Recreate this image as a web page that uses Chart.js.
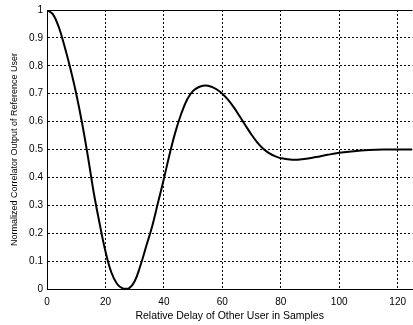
<!DOCTYPE html>
<html>
<head>
<meta charset="utf-8">
<script src="https://cdn.jsdelivr.net/npm/chart.js@4.4.1/dist/chart.umd.min.js"></script>
<style>
  html, body { margin: 0; padding: 0; background: #fff; overflow: hidden; }
  #wrap { width: 413px; height: 325px; }
</style>
</head>
<body>
<div id="wrap"><canvas id="chart" width="413" height="325"></canvas></div>
<script>
// delay in samples and normalized correlator output
const delays = [0, 2, 4, 6, 8, 10, 12, 14, 16, 18, 20, 22, 24, 26, 28, 30, 32, 34, 36, 38,
  40, 42, 44, 46, 48, 50, 52, 54, 56, 58, 60, 62, 64, 66, 68, 70, 72, 74, 76, 78,
  80, 84, 88, 92, 96, 100, 105, 110, 115, 120, 125];
const output = [1.0, 0.985, 0.94, 0.87, 0.79, 0.7, 0.595, 0.475, 0.345, 0.235, 0.135, 0.06, 0.018, 0.002, 0.002, 0.028, 0.085, 0.155, 0.225, 0.31,
  0.395, 0.485, 0.565, 0.63, 0.68, 0.71, 0.724, 0.729, 0.726, 0.716, 0.7, 0.678, 0.65, 0.618, 0.585, 0.553, 0.525, 0.503, 0.487, 0.476,
  0.469, 0.463, 0.466, 0.473, 0.481, 0.488, 0.494, 0.498, 0.5, 0.5, 0.5];

const xTicks = [0, 20, 40, 60, 80, 100, 120];
const yTicks = [0, 0.1, 0.2, 0.3, 0.4, 0.5, 0.6, 0.7, 0.8, 0.9, 1];

const fontFamily = '"Liberation Sans", Arial, Helvetica, sans-serif';

// top frame line (matlab box)
const topBorder = {
  id: 'topBorder',
  afterDraw(chart) {
    const { ctx, chartArea } = chart;
    ctx.save();
    ctx.strokeStyle = '#000';
    ctx.lineWidth = 1;
    ctx.beginPath();
    ctx.moveTo(chartArea.left, chartArea.top + 0.5);
    ctx.lineTo(chartArea.right, chartArea.top + 0.5);
    ctx.stroke();
    ctx.restore();
  }
};

const data = {
  datasets: [{
    data: delays.map((d, i) => ({ x: d, y: output[i] })),
    borderColor: '#000',
    borderWidth: 2,
    pointRadius: 0,
    fill: false,
    tension: 0.4
  }]
};

new Chart(document.getElementById('chart'), {
  type: 'line',
  data: data,
  plugins: [topBorder],
  options: {
    responsive: false,
    animation: false,
    layout: { padding: { top: 10, right: 0, left: 0, bottom: 0 } },
    plugins: {
      legend: { display: false },
      tooltip: { enabled: false }
    },
    scales: {
      x: {
        type: 'linear',
        min: 0,
        max: 125,
        afterBuildTicks: (scale) => { scale.ticks = xTicks.map(v => ({ value: v })); },
        afterFit: (scale) => { scale.height = 36; },
        grid: { color: '#000', lineWidth: 1, drawTicks: false },
        border: { display: true, color: '#000', width: 1, dash: [2, 2] },
        ticks: {
          color: '#000',
          padding: 7,
          maxRotation: 0,
          font: { size: 10, family: fontFamily }
        },
        title: {
          display: true,
          text: 'Relative Delay of Other User in Samples',
          color: '#000',
          padding: { top: 0, bottom: 3 },
          font: { size: 10.5, family: fontFamily }
        }
      },
      y: {
        min: 0,
        max: 1,
        afterBuildTicks: (scale) => { scale.ticks = yTicks.map(v => ({ value: v })); },
        afterFit: (scale) => { scale.width = 47; },
        grid: { color: '#000', lineWidth: 1, drawTicks: false },
        border: { display: true, color: '#000', width: 1, dash: [2, 2] },
        ticks: {
          color: '#000',
          padding: 4,
          font: { size: 10, family: fontFamily },
          callback: (v) => String(Math.round(v * 10) / 10)
        },
        title: {
          display: true,
          text: 'Normalized Correlator Output of Reference User',
          color: '#000',
          padding: { top: 9, bottom: 0 },
          font: { size: 9, family: fontFamily }
        }
      }
    }
  }
});
</script>
</body>
</html>
